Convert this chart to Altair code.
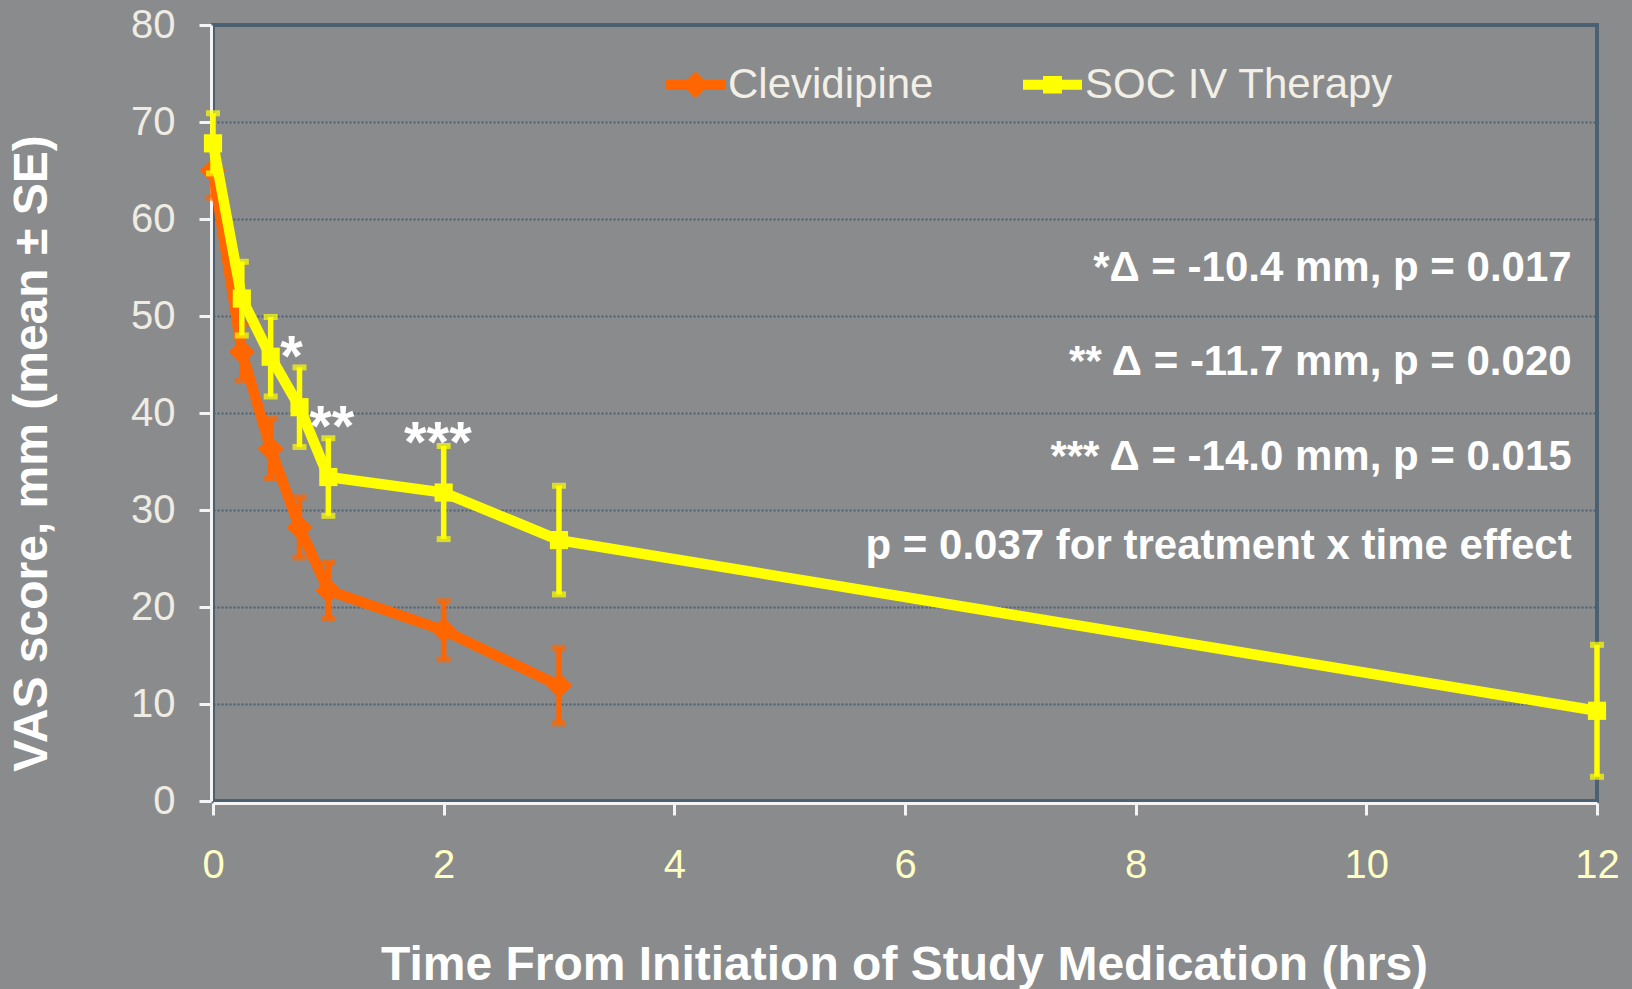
import altair as alt
import pandas as pd

# VAS score (mean and standard error) by hours since start of study medication
time_clev = [0, 0.25, 0.5, 0.75, 1, 2, 3]
mean_clev = [65.0, 46.3, 36.3, 28.2, 21.7, 17.6, 11.9]
se_clev = [2.8, 2.9, 3.1, 3.1, 2.9, 3.0, 3.9]

time_soc = [0, 0.25, 0.5, 0.75, 1, 2, 3, 12]
mean_soc = [67.8, 51.8, 45.8, 40.6, 33.4, 31.8, 26.9, 9.3]
se_soc = [3.1, 3.8, 4.1, 4.1, 4.0, 4.8, 5.6, 6.8]

series_names = ["Clevidipine", "SOC IV Therapy"]
series_colors = ["#ff6600", "#ffff00"]
series_shapes = ["diamond", "square"]

# significance markers, anchored in data units
star_labels = ["*", "**", "***"]
star_time = [0.68, 1.03, 1.95]
star_value = [43.8, 36.6, 34.9]

# statistics notes, right-aligned near the right edge
note_lines = [
    "*\u0394 = -10.4 mm, p = 0.017",
    "** \u0394 = -11.7 mm, p = 0.020",
    "*** \u0394 = -14.0 mm, p = 0.015",
    "p = 0.037 for treatment x time effect",
]
note_value = [54.9, 45.3, 35.5, 26.3]
note_time = [11.78, 11.78, 11.78, 11.78]

x_ticks = [0, 2, 4, 6, 8, 10, 12]
y_ticks = [0, 10, 20, 30, 40, 50, 60, 70, 80]

FONT = "Liberation Sans"
SLATE = "#4b6071"

rows = []
for name, ts, ms, ss in [
    (series_names[0], time_clev, mean_clev, se_clev),
    (series_names[1], time_soc, mean_soc, se_soc),
]:
    for t, m, s in zip(ts, ms, ss):
        rows.append({"series": name, "t": t, "mean": m, "lo": m - s, "hi": m + s})
df = pd.DataFrame(rows)

stars = pd.DataFrame({"label": star_labels, "t": star_time, "v": star_value})
notes = pd.DataFrame({"label": note_lines, "t": note_time, "v": note_value})

x_scale = alt.Scale(domain=[0, 12], nice=False, zero=True)
y_scale = alt.Scale(domain=[0, 80], nice=False, zero=True)

x_axis = alt.Axis(
    values=x_ticks,
    format="d",
    title="Time From Initiation of Study Medication (hrs)",
    grid=False,
    labelFlush=False,
    labelFontSize=40,
    labelColor="#ffffc4",
    labelFont=FONT,
    labelPadding=30,
    tickColor="#f4f4f4",
    tickWidth=3,
    tickSize=12,
    domainColor="#f4f4f4",
    domainWidth=3,
    offset=2,
    titleFont=FONT,
    titleFontSize=48,
    titleFontWeight="bold",
    titleColor="#ffffff",
    titleX=691,
    titleY=162,
    titleAlign="center",
    titleBaseline="middle",
)
y_axis = alt.Axis(
    values=y_ticks,
    format="d",
    title="VAS score, mm (mean \u00b1 SE)",
    grid=True,
    gridColor=SLATE,
    gridWidth=2,
    gridDash=[2, 2],
    labelFlush=False,
    labelFontSize=40,
    labelColor="#efece3",
    labelFont=FONT,
    labelPadding=24,
    tickColor="#f4f4f4",
    tickWidth=3,
    tickSize=12,
    domainColor="#f4f4f4",
    domainWidth=3,
    offset=2,
    titleFont=FONT,
    titleFontSize=48,
    titleFontWeight="bold",
    titleColor="#ffffff",
    titleAngle=-90,
    titleX=-179,
    titleY=428,
    titleAlign="center",
    titleBaseline="middle",
)

X = alt.X("t:Q", scale=x_scale, axis=x_axis)
Y = alt.Y("mean:Q", scale=y_scale, axis=y_axis)

base = alt.Chart(df)
layers = []
for name, color, shape in zip(series_names, series_colors, series_shapes):
    sub = base.transform_filter(alt.datum.series == name)
    layers.append(sub.mark_line(color=color, strokeWidth=10.5).encode(x=X, y=Y))
    layers.append(
        sub.mark_rule(color=color, strokeWidth=5.5).encode(
            x=X, y=alt.Y("lo:Q", scale=y_scale), y2="hi:Q"
        )
    )
    for end in ["lo", "hi"]:
        layers.append(
            sub.mark_tick(color=color, orient="horizontal", size=14, thickness=6).encode(
                x=X, y=alt.Y(f"{end}:Q", scale=y_scale)
            )
        )
    layers.append(
        sub.mark_point(
            filled=True,
            shape=shape,
            color=color,
            opacity=1,
            size=676 if shape == "diamond" else 330,
        ).encode(x=X, y=Y)
    )

# legend entries: a short line with the series marker on it
legend_paths = [
    "M-1,-0.17 L1,-0.17 L1,0.17 L-1,0.17 Z M0,-0.45 L0.45,0 L0,0.45 L-0.45,0 Z",
    "M-1,-0.17 L1,-0.17 L1,0.17 L-1,0.17 Z M-0.32,-0.3 L0.32,-0.3 L0.32,0.3 L-0.32,0.3 Z",
]
legend_layer = base.transform_filter(alt.datum.t < 0).mark_point(
    filled=True, opacity=1
).encode(
    x=X,
    y=Y,
    color=alt.Color(
        "series:N", scale=alt.Scale(domain=series_names, range=series_colors), title=None
    ),
    shape=alt.Shape(
        "series:N", scale=alt.Scale(domain=series_names, range=legend_paths), title=None
    ),
)
layers.append(legend_layer)

star_layer = alt.Chart(stars).mark_text(
    font=FONT,
    fontSize=58,
    fontWeight="bold",
    color="#ffffff",
    align="center",
    baseline="alphabetic",
).encode(
    x=alt.X("t:Q", scale=x_scale),
    y=alt.Y("v:Q", scale=y_scale),
    text="label:N",
)
note_layer = alt.Chart(notes).mark_text(
    font=FONT,
    fontSize=42,
    fontWeight="bold",
    color="#ffffff",
    align="right",
    baseline="middle",
).encode(
    x=alt.X("t:Q", scale=x_scale),
    y=alt.Y("v:Q", scale=y_scale),
    text="label:N",
)
layers += [star_layer, note_layer]

chart = (
    alt.layer(*layers)
    .properties(
        width=1384,
        height=776,
        padding={"left": 213, "top": 25, "right": 35, "bottom": 188},
        autosize=alt.AutoSizeParams(type="none"),
        background="#8a8b8d",
    )
    .configure_view(stroke=SLATE, strokeWidth=4)
    .configure_legend(
        orient="none",
        legendX=453,
        legendY=30,
        direction="horizontal",
        labelFont=FONT,
        labelFontSize=42,
        labelColor="#f2efe6",
        labelLimit=0,
        symbolSize=3481,
        symbolStrokeWidth=0,
        labelOffset=3,
        columnPadding=89,
        padding=0,
    )
)

chart.save("out.html", embed_options={"renderer": "svg", "actions": False})
